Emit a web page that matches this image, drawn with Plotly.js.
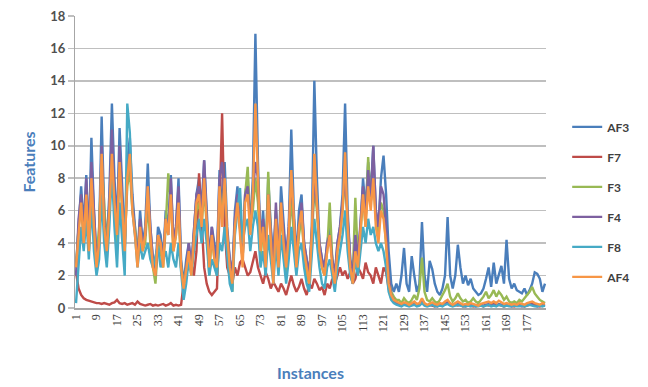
<!DOCTYPE html>
<html>
<head>
<meta charset="utf-8">
<script src="https://cdn.plot.ly/plotly-3.0.1.min.js"></script>
<style>html,body{margin:0;padding:0;background:#fff;}#chart{width:648px;height:387px;}</style>
</head>
<body>
<div id="chart"></div>
<script>
const seriesNames = ["AF3", "F7", "F3", "F4", "F8", "AF4"];
const seriesColors = ["#4a7ebb", "#be4b48", "#98b954", "#7d60a0", "#46aac5", "#f79646"];
const tickLabels = [1, 9, 17, 25, 33, 41, 49, 57, 65, 73, 81, 89, 97, 105, 113, 121, 129, 137, 145, 153, 161, 169, 177];

const AF3 = [
  2.5,5,7.5,5,8.2,4,10.5,6,3,4.5,
  11.8,6,4,7,12.6,8,5,11.1,7,4,
  9,10.5,7,5,3,6,4,5,8.9,5,
  3,2.5,5,4.5,3,6,5,8.2,4,5,
  8,3,1.5,3,4,2.5,5,7,8,6,
  9.1,6,3,5,4,3,8.5,6,9,5,
  3,2,6,7.5,5,3,7,8,5,8,
  16.9,9,4,6,3,8,5,3,6,3,
  7.5,5,3,5,11,6,3,6,7,4,
  3,2,5,14,8,4,3,2.5,4,5,
  3,2,4,5,7,12.6,6,3,2,4,
  3,5,8,6,9,7,10,6,5,8,
  9.4,7,3.5,1.5,1,1.5,1,2,3.7,1.5,
  1,3.2,2,1,1.5,5.3,2,1,2.9,2.4,
  1.5,1,0.8,1.2,2,5.6,2,1.2,2,3.9,
  2.5,1.5,2,1.4,1.8,1.2,1,0.8,0.9,1.2,
  1.8,2.5,1.3,2.8,1.5,2,2.6,1.5,4.2,1.8,
  1.2,1.5,1.1,1,0.9,1.2,0.8,1.1,1.5,2.2,
  2.1,1.8,1,1.5
];
const F7 = [
  2.2,1.2,0.8,0.6,0.5,0.45,0.4,0.35,0.3,0.3,
  0.25,0.3,0.25,0.2,0.3,0.35,0.5,0.3,0.25,0.3,
  0.2,0.25,0.3,0.2,0.4,0.25,0.2,0.15,0.2,0.25,
  0.15,0.2,0.15,0.2,0.25,0.15,0.2,0.3,0.15,0.2,
  0.15,0.2,1.5,2.2,2.5,2.8,2,3.5,8.3,5,
  2.5,1.5,1,0.8,1,1.2,6,12,5,2.5,
  2,1.5,2.5,2,2.8,3,2.5,2,2.2,2.8,
  3.5,2.5,2,1.5,2.2,1.8,1.2,1.6,1.3,1,
  1.5,1.2,0.8,1.5,2,1.4,1,1.3,1.8,1.2,
  0.8,1.5,1.2,1.8,1.5,1.1,1.3,0.8,1.5,1.2,
  1.8,1.5,2,2.5,2,2.3,1.8,2.2,1.5,1.8,
  2.5,2.2,1.8,2.8,2.2,2,1.5,2.5,2,1.5,
  2.5,2.2,1.2,0.6,0.4,0.3,0.3,0.2,0.25,0.2,
  0.15,0.2,0.25,0.15,0.2,0.3,0.2,0.15,0.2,0.15,
  0.1,0.2,0.15,0.2,0.25,0.3,0.2,0.15,0.2,0.15,
  0.2,0.1,0.15,0.2,0.15,0.1,0.15,0.2,0.15,0.1,
  0.2,0.15,0.2,0.25,0.15,0.2,0.15,0.1,0.15,0.2,
  0.15,0.1,0.15,0.2,0.15,0.1,0.15,0.2,0.25,0.2,
  0.15,0.1,0.15,0.2
];
const F3 = [
  2.5,5,6.5,4,7,3.5,8,5,3,5,
  9.3,6,3.5,6,9,6,4,9,6,4,
  7.5,8.5,6,5,3.5,5,3.5,4,6.5,4,
  2.5,1.5,4,3.5,2.5,5,8.3,6.5,3.5,4.5,
  6,2.5,1.5,2.5,3.5,2,4.5,6,6.5,5,
  7.5,5,2,4.5,3,2,7,5.5,7.5,4,
  2,1,5,6.5,5,3,7,8.7,5,6,
  8,6.5,3,5,3,8.4,4.5,2,6,2.5,
  6,4,2,4,7,4.5,2.5,4.5,5.5,3.5,
  2,1.5,4,7.5,6,3.5,2.5,2,3.5,6.5,
  3,1.5,3.5,4.5,6,8,5,2.5,2,6.8,
  3,4.5,7,5,9.3,6.5,8,5.5,4.5,6.5,
  6,4,1.8,1,0.7,0.5,0.5,0.3,0.6,0.4,
  0.3,0.5,0.8,0.5,1.2,3.1,1,0.5,0.4,0.6,
  0.4,0.3,0.5,0.8,1.1,1.5,0.7,0.4,0.6,0.9,
  0.6,0.4,0.5,0.3,0.4,0.6,0.4,0.3,0.5,0.7,
  1,0.6,0.8,1.1,0.7,1,0.8,0.5,0.7,0.4,
  0.3,0.4,0.3,0.5,0.4,0.6,0.8,1,1.3,0.9,
  0.7,0.5,0.4,0.3
];
const F4 = [
  2,5.5,7,4.5,8,4,9,5.5,3,4,
  10,5.5,3,6.5,11,7,4.5,10,6.5,3.5,
  8.5,9.5,6.5,4.5,3,5.5,4,4.5,7.5,5,
  3,2,4.5,4,3,5.5,4.5,8,4,5,
  7.5,2.5,1.2,2.5,4,2.5,5,7,7.5,5.5,
  9.1,5.5,3,5,3.5,3,8,9,7,4.5,
  3,2,5.5,7,5,3,7,7.5,5,7,
  9,8,4,5.5,3,7,4.5,2.5,6.5,3,
  6.5,4.5,3,5,8,5.5,3,5,6.5,4,
  3,2,4.5,8,6.5,4,3,2.5,4,4.5,
  3,2,4,5,6.5,8,5.5,3,2,4.5,
  3,5,7.5,5.5,8.5,6.5,10,6,5,7.5,
  7,5,2,0.8,0.5,0.3,0.25,0.2,0.3,0.2,
  0.15,0.2,0.3,0.2,0.25,0.4,0.2,0.15,0.2,0.25,
  0.15,0.1,0.2,0.15,0.25,0.35,0.2,0.15,0.2,0.25,
  0.2,0.15,0.1,0.15,0.2,0.15,0.1,0.15,0.2,0.15,
  0.2,0.25,0.15,0.2,0.15,0.25,0.2,0.15,0.2,0.15,
  0.1,0.15,0.2,0.15,0.1,0.15,0.2,0.25,0.2,0.15,
  0.1,0.15,0.2,0.15
];
const F8 = [
  0.3,3,5,3.5,5.5,3,6.5,3.5,2,3,
  7,4,2.5,5,8.5,5,2.5,6.5,4,2,
  12.6,10.8,6,4.5,2.5,4,3,3.5,4,3,
  2.5,3.2,3.8,2.5,3,3.5,2.5,4,3,2.5,
  4,2,0.5,1.5,3,2,3.5,4.5,5.5,4,
  5.5,4,2,3,2.5,2,4,3.5,5,3,
  1.5,1,4.5,6,7.4,4,5,5.5,3.5,5,
  6,5,2.5,3.5,2,4.5,3,1.5,4,2,
  4.5,3,1.5,3,5,3.5,2,3.5,4,2.5,
  1.5,1,3,5.5,4,2.5,1.5,1.2,2.5,3,
  2,1,2.5,3.5,4.5,6,3.5,2,1.5,3,
  2,3.5,5,4,5.5,4.5,5,4,3.5,4,
  3.5,2.5,1,0.5,0.3,0.2,0.15,0.1,0.2,0.15,
  0.1,0.15,0.2,0.1,0.15,0.3,0.15,0.1,0.15,0.2,
  0.1,0.1,0.15,0.1,0.2,0.25,0.15,0.1,0.15,0.2,
  0.15,0.1,0.1,0.15,0.1,0.15,0.1,0.1,0.15,0.1,
  0.15,0.2,0.1,0.15,0.1,0.2,0.15,0.1,0.15,0.1,
  0.1,0.15,0.1,0.1,0.15,0.1,0.15,0.2,0.15,0.1,
  0.1,0.15,0.1,0.15
];
const AF4 = [
  2.5,4.5,6.5,4,7,3.5,8,5,2.5,4,
  9.5,5,3.5,6,9.5,6.5,4.5,9,6,3.5,
  8,9.5,6,4.5,2.5,5,3.5,4.5,7.5,4.5,
  2.5,2,4.5,4,2.5,5.5,4.5,7,3.5,4.5,
  6.5,2.5,1.2,2.5,3.5,2,4.5,6.5,7,5,
  8,5,2.5,4.5,3,2.5,7.5,5,8,4.5,
  2.5,1.5,5,6.5,4.5,2.5,6.5,7,4.5,7,
  12.6,7.5,3.5,5,2.5,7,4,1.5,5.5,2.5,
  6.5,4,2.5,4.5,8.5,5,2.5,5,6,3.5,
  2.5,1.5,4.5,9.5,6.5,3.5,2.5,2,3.5,4.5,
  2.5,1.5,3.5,4.5,6,9.6,5,2.5,1.5,3.5,
  2.5,4.5,7,5,7.5,6,8,5,4,6,
  5.5,4,1.5,0.8,0.5,0.4,0.3,0.25,0.35,0.3,
  0.2,0.3,0.4,0.25,0.3,0.6,0.3,0.2,0.3,0.35,
  0.25,0.2,0.3,0.25,0.4,0.5,0.3,0.2,0.3,0.4,
  0.3,0.2,0.25,0.2,0.3,0.25,0.2,0.15,0.25,0.3,
  0.35,0.4,0.3,0.4,0.3,0.45,0.35,0.25,0.3,0.25,
  0.2,0.25,0.2,0.3,0.25,0.2,0.3,0.35,0.4,0.3,
  0.25,0.2,0.3,0.25
];

const seriesValues = [AF3, F7, F3, F4, F8, AF4];
const instances = AF3.map((_, i) => i + 1);

const traces = seriesNames.map((name, k) => ({
  type: "scatter",
  mode: "lines",
  name: name,
  legendgroup: name,
  x: instances,
  y: seriesValues[k],
  line: {color: seriesColors[k], width: 2.4},
  hoverinfo: "skip"
}));

const layout = {
  width: 648,
  height: 387,
  margin: {l: 75, r: 93, t: 16, b: 79},
  paper_bgcolor: "#ffffff",
  plot_bgcolor: "#ffffff",
  font: {family: "Lato, 'Open Sans', sans-serif", color: "#404040", size: 12},
  showlegend: true,
  legend: {
    x: 1.045, y: 0.67, xanchor: "left", yanchor: "top",
    font: {size: 12, color: "#404040", weight: "bold"},
    tracegroupgap: 11,
    itemwidth: 30,
    bgcolor: "rgba(0,0,0,0)"
  },
  xaxis: {
    range: [0.6, 184.4],
    tickmode: "array",
    tickvals: tickLabels,
    ticktext: tickLabels.map(String),
    tickangle: -90,
    tickfont: {size: 12, color: "#404040", family: "'Liberation Serif', 'DejaVu Serif', serif"},
    showgrid: false,
    zeroline: false,
    showline: true,
    linecolor: "#a6a6a6",
    linewidth: 1.5,
    ticks: "",
    title: {text: "Instances", font: {size: 16, color: "#4a7ebb", family: "Lato, sans-serif", weight: "bold"}, standoff: 36}
  },
  yaxis: {
    range: [0, 18],
    dtick: 2,
    tickfont: {size: 13, color: "#505050", weight: "bold"},
    showgrid: true,
    gridcolor: "#bfbfbf",
    gridwidth: 1.5,
    zeroline: false,
    showline: true,
    linecolor: "#a6a6a6",
    linewidth: 1,
    ticks: "outside",
    ticklen: 6,
    tickcolor: "#bfbfbf",
    tickwidth: 1.5,
    title: {text: "Features", font: {size: 16, color: "#4a7ebb", family: "Lato, sans-serif", weight: "bold"}, standoff: 10}
  }
};

Plotly.newPlot("chart", traces, layout, {displayModeBar: false, staticPlot: true});
</script>
</body>
</html>
